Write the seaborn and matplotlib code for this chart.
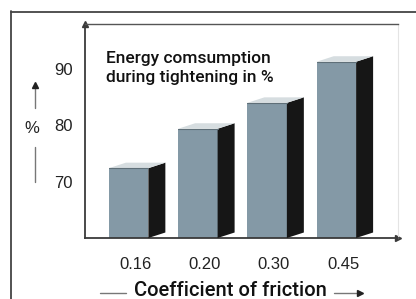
import numpy as np
import pandas as pd
import matplotlib
matplotlib.use("Agg")
import matplotlib.pyplot as plt
import seaborn as sns
from matplotlib.patches import Polygon
from matplotlib.lines import Line2D

# values
coefficients = ["0.16", "0.20", "0.30", "0.45"]
energy = [72.4, 79.4, 84.0, 91.3]
y_ticks = [70, 80, 90]

FRONT = "#8499a6"
SIDE = "#161616"
TOP = "#d6dde0"
AXIS = "#3a3a3a"

sns.set_style("white")
plt.rcParams["font.family"] = ["Liberation Sans", "DejaVu Sans"]

W, H = 416, 299
fig = plt.figure(figsize=(W / 100, H / 100), dpi=100)
ax = fig.add_axes([85 / W, 1 - 238 / H, (398 - 85) / W, (238 - 24) / H])

df = pd.DataFrame({"coef": coefficients, "energy": energy})
sns.barplot(data=df, x="coef", y="energy", color=FRONT, saturation=1,
            width=0.57, ax=ax, linewidth=0)

ax.set_xlim(-0.63, 3.89)
ax.set_ylim(60, 98)

# 3d look: side and top faces, offsets converted from pixels
ax_w_px = (398 - 85)
ax_h_px = (238 - 24)
dx = 17 * (3.89 + 0.63) / ax_w_px
dy = 5.5 * (98 - 60) / ax_h_px
y0 = ax.get_ylim()[0]
for bar in ax.patches[:len(energy)]:
    x0 = bar.get_x()
    x1 = x0 + bar.get_width()
    top = bar.get_height()
    side = Polygon([(x1, y0), (x1 + dx, y0 + dy), (x1 + dx, top + dy), (x1, top)],
                   closed=True, facecolor=SIDE, edgecolor="none", zorder=3)
    lid = Polygon([(x0, top), (x1, top), (x1 + dx, top + dy), (x0 + dx, top + dy)],
                  closed=True, facecolor=TOP, edgecolor="none", zorder=3)
    ax.add_patch(side)
    ax.add_patch(lid)
    ax.plot([x0, x1], [top, top], color="#5f6f78", lw=0.8, zorder=4)

# ticks
ax.set_xticks(np.arange(len(coefficients)) + dx * 0.4)
ax.set_xticklabels(coefficients, fontsize=12)
ax.tick_params(axis="x", length=0, pad=14, labelcolor="#222222")
ax.set_yticks(y_ticks)
ax.set_yticklabels([str(t) for t in y_ticks], fontsize=12)
ax.tick_params(axis="y", direction="in", length=7, width=0.9, color=AXIS, pad=9,
               labelcolor="#222222")
ax.set_xlabel("")
ax.set_ylabel("")

for s in ["left", "bottom"]:
    ax.spines[s].set_color(AXIS)
    ax.spines[s].set_linewidth(1.3)
ax.spines["top"].set_color("#555555")
ax.spines["top"].set_linewidth(1.0)
ax.spines["right"].set_color("#e4e4e4")
ax.spines["right"].set_linewidth(0.8)

# axis arrowheads
ax.plot([0], [1], marker="^", ms=5, color=AXIS, transform=ax.transAxes, clip_on=False)
ax.plot([1], [0], marker=">", ms=5, color=AXIS, transform=ax.transAxes, clip_on=False)

# outer frame
fig.add_artist(Line2D([11 / W, 11 / W], [1 - 11 / H, 0], color="#444444", lw=1.3))
fig.add_artist(Line2D([11 / W, 1], [1 - 11.5 / H, 1 - 11.5 / H], color="#444444", lw=1.3))

# inner caption
fig.text(106 / W, 1 - 68 / H, "Energy comsumption\nduring tightening in %",
         family=["Roboto", "DejaVu Sans"], weight="medium", fontsize=12.5,
         ha="left", va="center", linespacing=1.4, color="#111111")

# y label with arrows
fig.text(32 / W, 1 - 129 / H, "%", fontsize=12, ha="center", va="center", color="#222222")
fig.add_artist(Line2D([35 / W, 35 / W], [1 - 147 / H, 1 - 182 / H], color="#777777", lw=1))
fig.add_artist(Line2D([35 / W, 35 / W], [1 - 108 / H, 1 - 86 / H], color="#777777", lw=1))
fig.add_artist(Line2D([35 / W], [1 - 85 / H], marker="^", ms=4, color="#222222"))

# x label with arrows
fig.text(230 / W, 1 - 291 / H, "Coefficient of friction", family=["Roboto", "DejaVu Sans"],
         weight="medium", fontsize=14.5, ha="center", va="center", color="#111111")
fig.add_artist(Line2D([100 / W, 126 / W], [1 - 293 / H, 1 - 293 / H], color="#777777", lw=1))
fig.add_artist(Line2D([334 / W, 358 / W], [1 - 293 / H, 1 - 293 / H], color="#777777", lw=1))
fig.add_artist(Line2D([360 / W], [1 - 293 / H], marker=">", ms=4, color="#222222"))

fig.savefig("out.png", dpi=100)
